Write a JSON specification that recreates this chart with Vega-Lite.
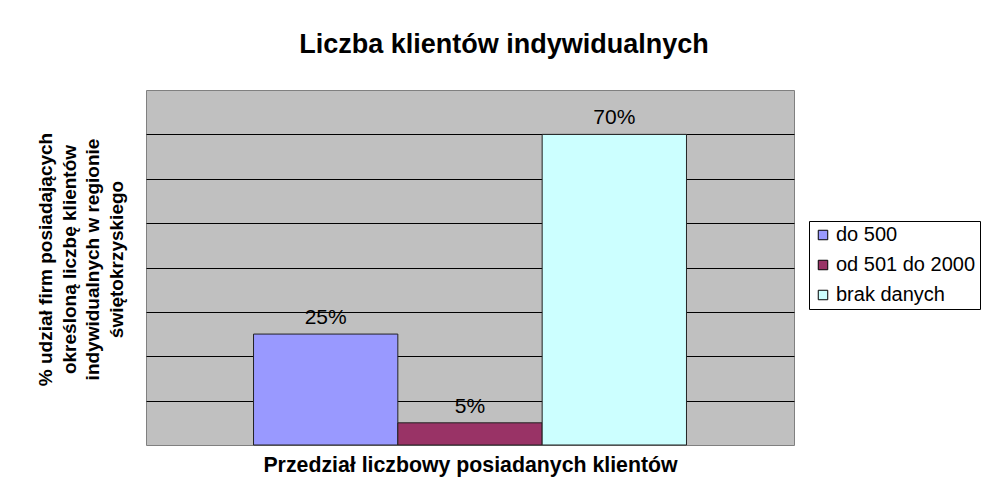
{
  "$schema": "https://vega.github.io/schema/vega-lite/v6.json",
  "autosize": {"type": "none"},
  "width": 648,
  "height": 355,
  "padding": {"left": 146, "top": 90, "right": 189, "bottom": 45},
  "background": "white",
  "data": {"values": [
    {"kategoria": "do 500", "udzial": 25, "etykieta": "25%"},
    {"kategoria": "od 501 do 2000", "udzial": 5, "etykieta": "5%"},
    {"kategoria": "brak danych", "udzial": 70, "etykieta": "70%"}
  ]},
  "title": {
    "text": "Liczba klientów indywidualnych",
    "font": "Liberation Sans",
    "fontSize": 27,
    "fontWeight": "bold",
    "color": "black",
    "anchor": "middle",
    "dx": 34,
    "offset": 31
  },
  "encoding": {
    "x": {
      "field": "kategoria",
      "type": "nominal",
      "sort": null,
      "scale": {"paddingInner": 0, "paddingOuter": 0.745},
      "axis": {
        "title": "Przedział liczbowy posiadanych klientów",
        "labels": false,
        "ticks": false,
        "domain": false,
        "titleFont": "Liberation Sans",
        "titleFontSize": 21.3,
        "titleFontWeight": "bold",
        "titleColor": "black",
        "titlePadding": 9
      }
    },
    "y": {
      "field": "udzial",
      "type": "quantitative",
      "scale": {"domain": [0, 80], "nice": false},
      "axis": {
        "title": ["% udział firm posiadających", "określoną liczbę klientów", "indywidualnych w regionie", "świętokrzyskiego"],
        "values": [10, 20, 30, 40, 50, 60, 70],
        "labels": false,
        "ticks": false,
        "domain": false,
        "grid": true,
        "gridColor": "black",
        "gridOpacity": 1,
        "gridWidth": 1,
        "titleFont": "Liberation Sans",
        "titleFontSize": 19,
        "titleFontWeight": "bold",
        "titleColor": "black",
        "titleLineHeight": 23.5,
        "titlePadding": 20,
        "titleY": 169
      }
    }
  },
  "layer": [
    {
      "mark": {"type": "bar", "stroke": "#222222", "strokeWidth": 1},
      "encoding": {
        "color": {
          "field": "kategoria",
          "type": "nominal",
          "sort": null,
          "scale": {"domain": ["do 500", "od 501 do 2000", "brak danych"], "range": ["#9999ff", "#993366", "#ccffff"]},
          "legend": {
            "title": null,
            "orient": "none",
            "legendX": 663,
            "legendY": 131,
            "symbolType": "square",
            "symbolSize": 90,
            "symbolStrokeColor": "black",
            "symbolStrokeWidth": 1,
            "symbolOpacity": 1,
            "labelFont": "Liberation Sans",
            "labelFontSize": 20,
            "labelColor": "black",
            "labelOffset": 3,
            "rowPadding": 10,
            "padding": 4,
            "strokeColor": "black",
            "fillColor": "white",
            "labelLimit": 300
          }
        }
      }
    },
    {
      "mark": {"type": "text", "baseline": "alphabetic", "dy": -10, "font": "Liberation Sans", "fontSize": 21, "color": "black"},
      "encoding": {"text": {"field": "etykieta"}}
    }
  ],
  "config": {
    "view": {"fill": "#c0c0c0", "stroke": "#808080", "strokeWidth": 1}
  }
}
